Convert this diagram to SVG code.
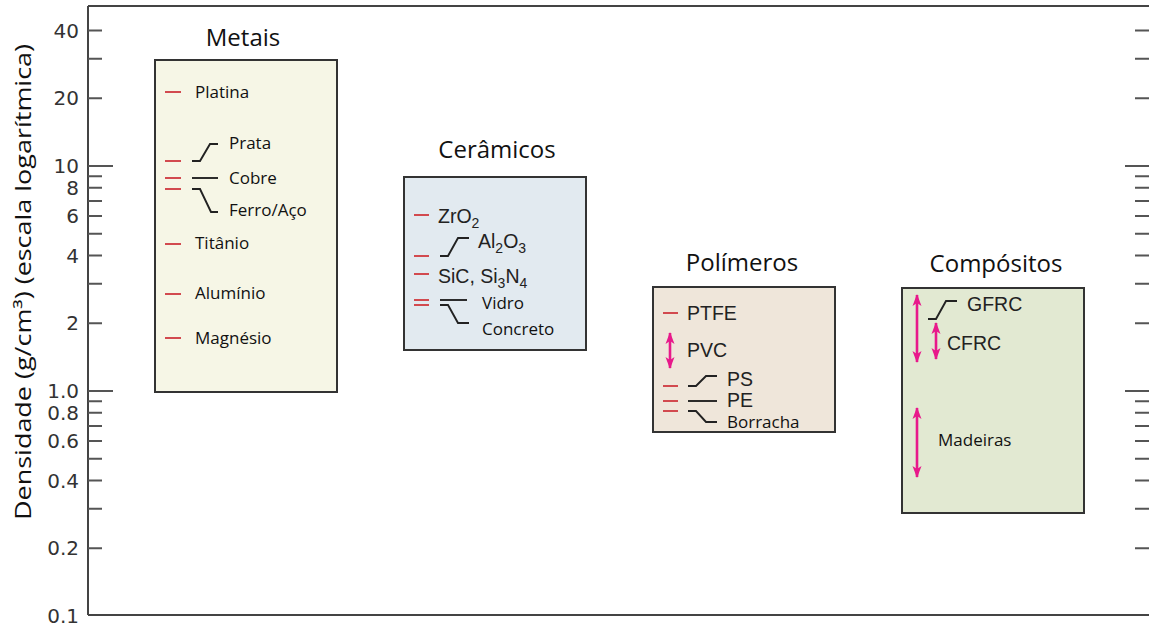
<svg xmlns="http://www.w3.org/2000/svg" width="1149" height="626" viewBox="0 0 1149 626">
<style>
.frame{stroke:#444;stroke-width:2;fill:none}
.tick{stroke:#555;stroke-width:2}
.tl{font-family:"DejaVu Sans",sans-serif;font-size:20px;fill:#333;text-anchor:end}
.title{font-family:"Open Sans",sans-serif;font-size:24px;fill:#111;text-anchor:middle}
.lab{font-family:"Open Sans",sans-serif;font-size:17px;fill:#111}
.hl{font-family:"Liberation Sans",sans-serif;font-size:19.5px;fill:#222}
.box{stroke:#333;stroke-width:2}
.dash{stroke:#d24a4f;stroke-width:2.2}
.lead{stroke:#222;stroke-width:1.9;fill:none}
.arr{stroke:#e8198b;stroke-width:2.6;fill:none}
</style>
<defs>
<marker id="ah" viewBox="0 0 12 10" refX="11" refY="5" markerWidth="12" markerHeight="10" markerUnits="userSpaceOnUse" orient="auto-start-reverse">
<path d="M0,0.5 L12,5 L0,9.5 L3,5 Z" fill="#e8198b"/>
</marker>
</defs>
<rect width="1149" height="626" fill="#fff"/>
<g id="axes">
<path class="frame" d="M88,6 H1149 M88,6 V615 M88,615 H1149"/>
<g class="tick">
<path d="M88,30.5H102 M88,58.7H102 M88,98.3H102 M88,166H113 M88,176.3H102 M88,187.8H102 M88,200.9H102 M88,215.9H102 M88,233.7H102 M88,255.5H102 M88,283.7H102 M88,323.3H102 M88,391H113 M88,401.3H102 M88,412.8H102 M88,425.9H102 M88,440.9H102 M88,458.7H102 M88,480.5H102 M88,508.7H102 M88,548.3H102"/>
<path d="M1135,30.5H1149 M1135,58.7H1149 M1135,98.3H1149 M1125,166H1149 M1135,176.3H1149 M1135,187.8H1149 M1135,200.9H1149 M1135,215.9H1149 M1135,233.7H1149 M1135,255.5H1149 M1135,283.7H1149 M1135,323.3H1149 M1125,391H1149 M1135,401.3H1149 M1135,412.8H1149 M1135,425.9H1149 M1135,440.9H1149 M1135,458.7H1149 M1135,480.5H1149 M1135,508.7H1149 M1135,548.3H1149"/>
</g>
<text class="tl" x="79" y="37.5">40</text>
<text class="tl" x="79" y="105">20</text>
<text class="tl" x="79" y="173">10</text>
<text class="tl" x="79" y="195">8</text>
<text class="tl" x="79" y="223">6</text>
<text class="tl" x="79" y="263">4</text>
<text class="tl" x="79" y="330">2</text>
<text class="tl" x="79" y="398">1.0</text>
<text class="tl" x="79" y="420">0.8</text>
<text class="tl" x="79" y="448">0.6</text>
<text class="tl" x="79" y="488">0.4</text>
<text class="tl" x="79" y="555">0.2</text>
<text class="tl" x="79" y="623">0.1</text>
<text font-family="Open Sans, sans-serif" font-size="21" fill="#111" transform="translate(31,520) rotate(-90)" textLength="476" lengthAdjust="spacingAndGlyphs">Densidade (g/cm³) (escala logarítmica)</text>
</g>
<g id="metais">
<rect class="box" x="155" y="60" width="182" height="332" fill="#f6f6e6"/>
<text class="title" x="243" y="45.5">Metais</text>
<path class="dash" d="M165,92H181 M165,161H181 M165,178H181 M165,189H181 M165,244H181 M165,294H181 M165,338H181"/>
<text class="lab" x="195" y="98">Platina</text>
<text class="lab" x="229" y="149">Prata</text>
<text class="lab" x="229" y="184">Cobre</text>
<text class="lab" x="229" y="216">Ferro/Aço</text>
<text class="lab" x="195" y="249">Titânio</text>
<text class="lab" x="195" y="299">Alumínio</text>
<text class="lab" x="195" y="344">Magnésio</text>
</g>
<g id="ceramicos">
<rect class="box" x="404" y="177" width="182" height="173" fill="#e2eaf0"/>
<text class="title" x="497" y="158">Cerâmicos</text>
<path class="dash" d="M414,215H429 M414,256H429 M414,274H429 M414,300H429 M414,305H429"/>
<text class="hl" x="438" y="223">ZrO<tspan font-size="14" dy="5">2</tspan></text>
<text class="hl" x="478" y="248">Al<tspan font-size="14" dy="5">2</tspan><tspan dy="-5">O</tspan><tspan font-size="14" dy="5">3</tspan></text>
<text class="hl" x="438" y="283">SiC, Si<tspan font-size="14" dy="5">3</tspan><tspan dy="-5">N</tspan><tspan font-size="14" dy="5">4</tspan></text>
<text class="lab" x="482" y="309">Vidro</text>
<text class="lab" x="482" y="335">Concreto</text>
</g>
<g id="polimeros">
<rect class="box" x="653" y="287" width="182" height="145" fill="#efe6da"/>
<text class="title" x="742" y="271">Polímeros</text>
<path class="dash" d="M663,313H678 M663,386H678 M663,401H678 M663,411H678"/>
<text class="hl" x="687" y="320">PTFE</text>
<text class="hl" x="687" y="357">PVC</text>
<text class="hl" x="727" y="386">PS</text>
<text class="hl" x="727" y="407">PE</text>
<text class="lab" x="727" y="428">Borracha</text>
</g>
<g id="compositos">
<rect class="box" x="902" y="288" width="182" height="225" fill="#e2e9d2"/>
<text class="title" x="996" y="272">Compósitos</text>
<text class="hl" x="967" y="311">GFRC</text>
<text class="hl" x="947" y="350">CFRC</text>
<text class="lab" x="938" y="446">Madeiras</text>
</g>
<g id="connectors">
<path class="lead" d="M192,161H200L210,144H218"/>
<path class="lead" d="M192,178H218"/>
<path class="lead" d="M192,189H200L211,212H218"/>
<path class="lead" d="M440,256H448L458,238H469"/>
<path class="lead" d="M440,300H467"/>
<path class="lead" d="M440,305H448L458,323H469"/>
<path class="lead" d="M688,386H696L706,376H717"/>
<path class="lead" d="M688,401H717"/>
<path class="lead" d="M688,411H696L706,422H717"/>
<path class="lead" d="M928,319H936L946,301H957"/>
<line class="arr" x1="670" y1="333" x2="670" y2="368" marker-start="url(#ah)" marker-end="url(#ah)"/>
<line class="arr" x1="917" y1="295" x2="917" y2="362" marker-start="url(#ah)" marker-end="url(#ah)"/>
<line class="arr" x1="936" y1="323" x2="936" y2="359" marker-start="url(#ah)" marker-end="url(#ah)"/>
<line class="arr" x1="917" y1="408" x2="917" y2="477" marker-start="url(#ah)" marker-end="url(#ah)"/>
</g>
</svg>
